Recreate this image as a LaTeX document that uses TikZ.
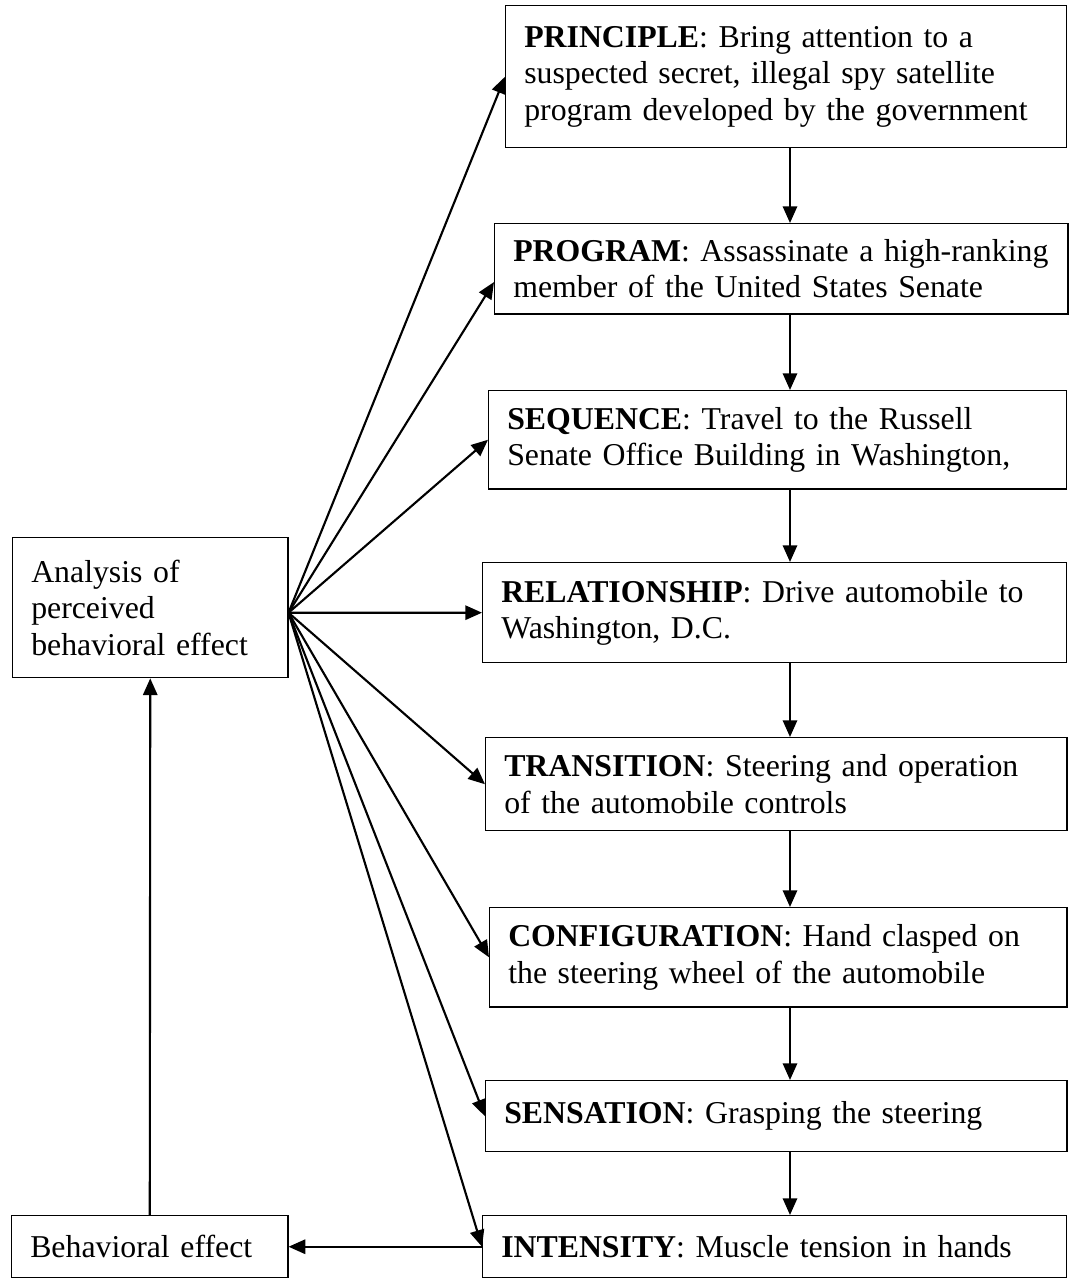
\documentclass[tikz,border=0pt]{standalone}
\usepackage{fontspec}
\setmainfont{Liberation Serif}
\usetikzlibrary{arrows.meta}

\begin{document}
\begin{tikzpicture}[x=0.3774pt, y=-0.3774pt,
  font=\fontsize{12}{13.8}\selectfont,
  stepbox/.style={draw, line width=0.55pt, align=left, anchor=north west, inner xsep=7pt, inner ysep=0pt},
  arr/.style={-{Triangle[length=6.3pt, width=5.4pt]}, line width=0.8pt}]
\useasboundingbox (0,0) rectangle (1071,1279);

% chain of levels on the right
\node[stepbox, text width=197.7pt, minimum height=53.6pt] (principle) at (505,5) {\textbf{PRINCIPLE}: Bring attention to a\\suspected secret, illegal spy satellite\\program developed by the government};
\node[stepbox, text width=202.3pt, minimum height=34pt] (program) at (494,223) {\textbf{PROGRAM}: Assassinate a high-ranking\\member of the United States Senate};
\node[stepbox, text width=204.1pt, minimum height=37pt] (sequence) at (488,390) {\textbf{SEQUENCE}: Travel to the Russell\\Senate Office Building in Washington,};
\node[stepbox, text width=206.4pt, minimum height=37.7pt] (relation) at (482,562) {\textbf{RELATIONSHIP}: Drive automobile to\\Washington, D.C.};
\node[stepbox, text width=205.3pt, minimum height=35.1pt] (transition) at (485,737) {\textbf{TRANSITION}: Steering and operation\\of the automobile controls};
\node[stepbox, text width=203.8pt, minimum height=37.4pt] (config) at (489,907) {\textbf{CONFIGURATION}: Hand clasped on\\the steering wheel of the automobile};
\node[stepbox, text width=205.3pt, minimum height=26.8pt] (sensation) at (485,1080) {\textbf{SENSATION}: Grasping the steering};
\node[stepbox, text width=206.4pt, minimum height=23.4pt] (intensity) at (482,1215) {\textbf{INTENSITY}: Muscle tension in hands};

% left column
\node[stepbox, text width=89.8pt, minimum height=52.8pt] (analysis) at (12,537) {Analysis of\\perceived\\behavioral effect};
\node[stepbox, text width=90.2pt, minimum height=23.4pt] (effect) at (11,1215) {Behavioral effect};

\coordinate (axis) at (790,0);
\coordinate (hub) at ([yshift=-1.9pt]analysis.east);

\foreach \a/\b in {principle/program, program/sequence, sequence/relation, relation/transition, transition/config, config/sensation, sensation/intensity}
  \draw[arr] (\a.south -| axis) -- (\b.north -| axis);

\foreach \b in {principle, sequence, relation, transition, config, sensation, intensity}
  \draw[arr] (hub) -- (\b.west);
\draw[arr] (hub) -- ([yshift=-5pt]program.west);

\draw[arr] (intensity.west) -- (effect.east);
\draw[arr] (effect.north) -- (analysis.south);
\end{tikzpicture}
\end{document}
